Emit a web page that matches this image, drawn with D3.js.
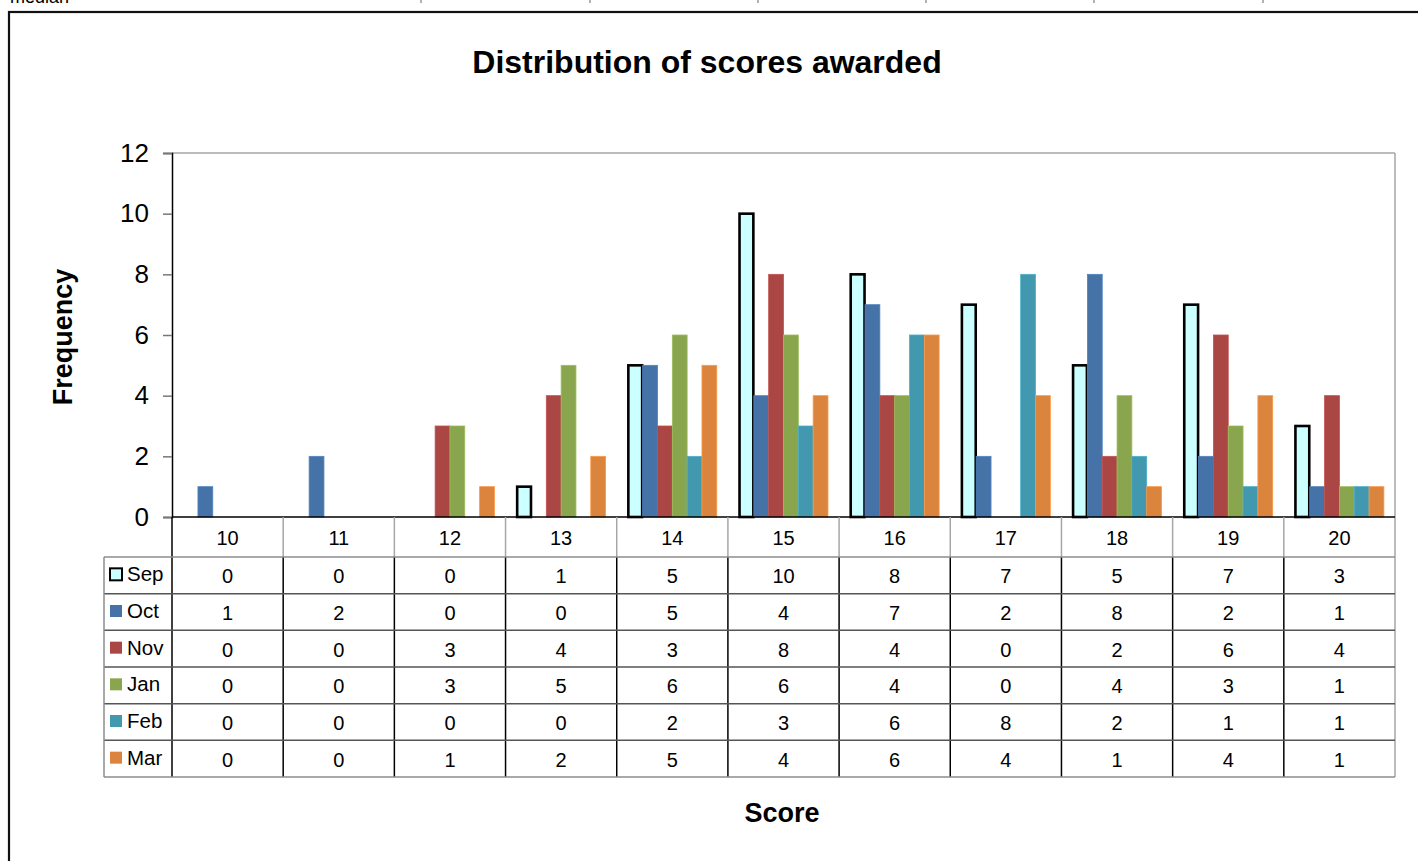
<!DOCTYPE html>
<html>
<head>
<meta charset="utf-8">
<script src="https://cdn.jsdelivr.net/npm/d3@7/dist/d3.min.js"></script>
<style>
  html, body { margin: 0; padding: 0; background: #fff; overflow: hidden; }
  svg { display: block; font-family: "Liberation Sans", Arial, sans-serif; }
</style>
</head>
<body>
<svg id="chart" width="1418" height="861"></svg>
<script>
// ---- data ----
const categories = ["10", "11", "12", "13", "14", "15", "16", "17", "18", "19", "20"];
const seriesNames = ["Sep", "Oct", "Nov", "Jan", "Feb", "Mar"];
const sep = [0, 0, 0, 1, 5, 10, 8, 7, 5, 7, 3];
const oct = [1, 2, 0, 0, 5, 4, 7, 2, 8, 2, 1];
const nov = [0, 0, 3, 4, 3, 8, 4, 0, 2, 6, 4];
const jan = [0, 0, 3, 5, 6, 6, 4, 0, 4, 3, 1];
const feb = [0, 0, 0, 0, 2, 3, 6, 8, 2, 1, 1];
const mar = [0, 0, 1, 2, 5, 4, 6, 4, 1, 4, 1];
const yTicks = [0, 2, 4, 6, 8, 10, 12];
const titleText = "Distribution of scores awarded";
const xTitle = "Score";
const yTitle = "Frequency";

(function () {
const seriesValues = [sep, oct, nov, jan, feb, mar];
const colors = ["#CCFFFF", "#4572A7", "#AA4643", "#89A54E", "#4198AF", "#DB843D"];

const svg = d3.select("#chart");

// outer frame
svg.append("rect").attr("x", 9).attr("y", 12).attr("width", 1420).attr("height", 860)
  .attr("fill", "none").attr("stroke", "#111").attr("stroke-width", 2.2);

// cut-off text at the very top
svg.append("text").attr("x", 10).attr("y", 3).attr("font-size", 18).attr("fill", "#000").text("median");
[421, 590, 758, 926, 1094, 1263].forEach(xx => {
  svg.append("line").attr("x1", xx).attr("x2", xx).attr("y1", 0).attr("y2", 3)
    .attr("stroke", "#999").attr("stroke-width", 1.5);
});

const pLeft = 172, pRight = 1395, pTop = 153, pBottom = 517;

const x = d3.scaleBand().domain(categories).range([pLeft, pRight]).padding(0);
const xs = d3.scaleBand().domain(seriesNames).range([0, x.bandwidth()]).paddingInner(0).paddingOuter(0.75);
const y = d3.scaleLinear().domain([0, 12]).range([pBottom, pTop]);

// plot area border (grey top & right)
svg.append("line").attr("x1", pLeft).attr("x2", pRight).attr("y1", pTop).attr("y2", pTop)
  .attr("stroke", "#a6a6a6").attr("stroke-width", 1.5);
svg.append("line").attr("x1", pRight).attr("x2", pRight).attr("y1", pTop).attr("y2", 777)
  .attr("stroke", "#a6a6a6").attr("stroke-width", 1.5);

// bars
const g = svg.append("g");
seriesNames.forEach((s, si) => {
  const vals = seriesValues[si];
  g.selectAll(null).data(categories.map((c, i) => ({ c, v: vals[i] })).filter(d => d.v > 0))
    .join("rect")
    .attr("x", d => x(d.c) + xs(s) + (si === 0 ? 0.5 : 0))
    .attr("y", d => y(d.v))
    .attr("width", xs.bandwidth() - (si === 0 ? 1 : 0))
    .attr("height", d => y(0) - y(d.v))
    .attr("fill", colors[si])
    .attr("stroke", si === 0 ? "#000" : d3.color(colors[si]).brighter(0.4))
    .attr("stroke-width", si === 0 ? 2.6 : 0.8);
});

// y axis
const yAxis = d3.axisLeft(y).tickValues(yTicks).tickSize(9).tickPadding(14).tickFormat(d3.format("d"));
const ya = svg.append("g").attr("transform", `translate(${pLeft},0)`).call(yAxis);
ya.select(".domain").attr("stroke", "#000").attr("stroke-width", 1.5);
ya.selectAll(".tick line").attr("stroke", "#777").attr("stroke-width", 1.5);
ya.selectAll(".tick text").attr("font-size", 26).attr("fill", "#000")
  .attr("font-family", "'Liberation Sans', Arial, sans-serif");

// x axis line (zero)
svg.append("line").attr("x1", pLeft).attr("x2", pRight).attr("y1", pBottom).attr("y2", pBottom)
  .attr("stroke", "#000").attr("stroke-width", 1.5);

// data table
const headerBottom = 557;
const tableBottom = 777;
const rowH = (tableBottom - headerBottom) / seriesNames.length;
const legendLeft = 104;

categories.forEach((c, i) => {
  if (i > 0) svg.append("line").attr("x1", x(c)).attr("x2", x(c)).attr("y1", pBottom).attr("y2", headerBottom)
    .attr("stroke", "#a6a6a6").attr("stroke-width", 1.5);
});
svg.append("line").attr("x1", pLeft).attr("x2", pLeft).attr("y1", pBottom).attr("y2", tableBottom)
  .attr("stroke", "#000").attr("stroke-width", 1.5);
categories.forEach((c, i) => {
  if (i > 0) svg.append("line").attr("x1", x(c)).attr("x2", x(c)).attr("y1", headerBottom).attr("y2", tableBottom)
    .attr("stroke", "#000").attr("stroke-width", 1.5);
});
for (let r = 0; r <= seriesNames.length; r++) {
  const yy = headerBottom + r * rowH;
  svg.append("line").attr("x1", legendLeft).attr("x2", pRight).attr("y1", yy).attr("y2", yy)
    .attr("stroke", r === seriesNames.length || r === 0 ? "#8c8c8c" : "#555").attr("stroke-width", 1.5);
}
svg.append("line").attr("x1", legendLeft).attr("x2", legendLeft).attr("y1", headerBottom).attr("y2", tableBottom)
  .attr("stroke", "#8c8c8c").attr("stroke-width", 1.5);

// category labels
svg.selectAll(null).data(categories).join("text")
  .attr("x", d => x(d) + x.bandwidth() / 2).attr("y", pBottom + 28)
  .attr("text-anchor", "middle").attr("font-size", 20).attr("fill", "#000").text(d => d);

// table rows
seriesNames.forEach((s, si) => {
  const cy = headerBottom + si * rowH + rowH / 2;
  svg.append("rect").attr("x", 110).attr("y", cy - 7).attr("width", 12).attr("height", 12)
    .attr("fill", colors[si]).attr("stroke", si === 0 ? "#000" : "none").attr("stroke-width", si === 0 ? 2 : 0);
  svg.append("text").attr("x", 127).attr("y", cy + 6).attr("font-size", 20.5).attr("fill", "#000").text(s);
  svg.selectAll(null).data(categories.map((c, i) => ({ c, v: seriesValues[si][i] }))).join("text")
    .attr("x", d => x(d.c) + x.bandwidth() / 2).attr("y", cy + 8)
    .attr("text-anchor", "middle").attr("font-size", 20).attr("fill", "#000").text(d => d.v);
});

// titles
svg.append("text").attr("x", 707).attr("y", 73).attr("text-anchor", "middle")
  .attr("font-size", 32).attr("font-weight", "bold").attr("fill", "#000").text(titleText);
svg.append("text").attr("x", 782).attr("y", 822).attr("text-anchor", "middle")
  .attr("font-size", 27).attr("font-weight", "bold").attr("fill", "#000").text(xTitle);
svg.append("text").attr("transform", "translate(72,337) rotate(-90)").attr("text-anchor", "middle")
  .attr("font-size", 27).attr("font-weight", "bold").attr("fill", "#000").text(yTitle);
})();
</script>
</body>
</html>
